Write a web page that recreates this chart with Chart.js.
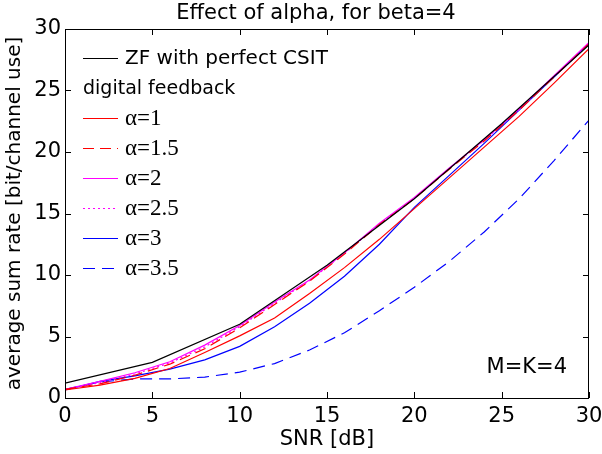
<!DOCTYPE html>
<html>
<head>
<meta charset="utf-8">
<script src="https://cdn.jsdelivr.net/npm/chart.js@4"></script>
<style>
  body { margin: 0; background: #fff; }
  canvas { display: block; }
</style>
</head>
<body>
<canvas id="rateChart" width="602" height="454"></canvas>
<script>
const snrCoarse = [0, 5, 10, 15, 20, 25, 30];
const snrFine = [0, 2, 4, 6, 8, 10, 12, 14, 16, 18, 20, 22, 24, 26, 28, 30];

const zfPerfect = [1.2, 2.9, 6.0, 10.8, 16.2, 22.3, 28.7];
const alpha1  = [0.65, 1.05, 1.6, 2.4, 3.7, 5.05, 6.5, 8.5, 10.6, 12.9, 15.4, 17.9, 20.4, 22.9, 25.6, 28.4];
const alpha15 = [0.7, 1.15, 1.85, 2.75, 4.0, 5.7, 7.6, 9.5, 11.7, 14.1, 16.2, 18.6, 20.9, 23.4, 26.1, 28.8];
const alpha2  = [0.7, 1.35, 2.05, 2.95, 4.3, 5.9, 7.8, 9.6, 11.8, 14.2, 16.3, 18.7, 21.0, 23.5, 26.2, 28.9];
const alpha25 = [0.7, 1.25, 1.95, 2.85, 4.15, 5.8, 7.7, 9.55, 11.75, 14.15, 16.25, 18.65, 20.95, 23.45, 26.15, 28.85];
const alpha3  = [0.65, 1.35, 1.8, 2.35, 3.1, 4.2, 5.8, 7.7, 9.9, 12.5, 15.5, 18.1, 20.7, 23.4, 26.1, 28.8];
const alpha35 = [0.7, 1.3, 1.55, 1.55, 1.7, 2.1, 2.8, 3.9, 5.3, 7.1, 9.0, 11.1, 13.5, 16.2, 19.3, 22.6];

const xTicks = [0, 5, 10, 15, 20, 25, 30];
const yTicks = [0, 5, 10, 15, 20, 25, 30];

const seriesLabels = ["ZF with perfect CSIT", "\u03b1=1", "\u03b1=1.5", "\u03b1=2", "\u03b1=2.5", "\u03b1=3", "\u03b1=3.5"];
const legendHeader = "digital feedback";
const chartTitle = "Effect of alpha, for beta=4";
const noteText = "M=K=4";

const SANS = "'DejaVu Sans', sans-serif";
const SERIF = "'Liberation Serif', 'DejaVu Serif', serif";

function pts(xs, ys) {
  return xs.map((x, i) => ({ x, y: ys[i] }));
}

function line(label, xs, ys, color, dash) {
  return {
    label,
    data: pts(xs, ys),
    borderColor: color,
    backgroundColor: color,
    borderWidth: 1.2,
    borderDash: dash || [],
    pointRadius: 0,
    tension: 0,
    fill: false
  };
}

const datasets = [
  line(seriesLabels[0], snrCoarse, zfPerfect, "#000000"),
  line(seriesLabels[1], snrFine, alpha1, "#ff0000"),
  line(seriesLabels[2], snrFine, alpha15, "#ff0000", [11, 6]),
  line(seriesLabels[3], snrFine, alpha2, "#ff00ff"),
  line(seriesLabels[4], snrFine, alpha25, "#ff00ff", [2, 3]),
  line(seriesLabels[5], snrFine, alpha3, "#0000ff"),
  line(seriesLabels[6], snrFine, alpha35, "#0000ff", [12, 7])
];

// box, inward ticks, title, legend and the note, matlab style
const decorations = {
  id: "decorations",
  afterDraw(chart) {
    const { ctx, chartArea: a, scales } = chart;
    ctx.save();
    ctx.strokeStyle = "#000";
    ctx.lineWidth = 1;
    ctx.setLineDash([]);
    ctx.strokeRect(a.left + 0.5, a.top + 0.5, a.right - a.left - 1, a.bottom - a.top);

    const tl = 6;
    ctx.beginPath();
    xTicks.forEach(v => {
      const px = Math.round(scales.x.getPixelForValue(v)) + 0.5;
      ctx.moveTo(px, a.bottom); ctx.lineTo(px, a.bottom - tl);
      ctx.moveTo(px, a.top); ctx.lineTo(px, a.top + tl);
    });
    yTicks.forEach(v => {
      const py = Math.round(scales.y.getPixelForValue(v)) + 0.5;
      ctx.moveTo(a.left, py); ctx.lineTo(a.left + tl, py);
      ctx.moveTo(a.right, py); ctx.lineTo(a.right - tl, py);
    });
    ctx.stroke();

    ctx.fillStyle = "#000";
    ctx.font = "21px " + SANS;
    ctx.textAlign = "center";
    ctx.textBaseline = "middle";
    ctx.fillText(chartTitle, 316, 14);

    ctx.textAlign = "right";
    ctx.fillText(noteText, a.right - 22, 368);

    // legend
    const x0 = a.left + 18, x1 = a.left + 53, tx = a.left + 60;
    let y = 58;
    ctx.textAlign = "left";
    chart.data.datasets.forEach((ds, i) => {
      ctx.beginPath();
      ctx.strokeStyle = ds.borderColor;
      ctx.lineWidth = ds.borderWidth;
      ctx.setLineDash(ds.borderDash);
      ctx.moveTo(x0, y + 0.5); ctx.lineTo(x1, y + 0.5);
      ctx.stroke();
      ctx.setLineDash([]);
      ctx.fillStyle = "#000";
      ctx.font = i === 0 ? "20px " + SANS : "23px " + SERIF;
      ctx.fillText(ds.label, tx, y + 1);
      y += 30;
      if (i === 0) {
        ctx.font = "19px " + SANS;
        ctx.fillText(legendHeader, x0, y + 1);
        y += 30;
      }
    });
    ctx.restore();
  }
};

new Chart(document.getElementById("rateChart"), {
  type: "line",
  data: { datasets },
  options: {
    responsive: false,
    animation: false,
    devicePixelRatio: 1,
    layout: { padding: { top: 29, right: 13, left: 0, bottom: 0 } },
    plugins: {
      legend: { display: false },
      tooltip: { enabled: false }
    },
    scales: {
      x: {
        type: "linear",
        min: 0, max: 30,
        afterBuildTicks: s => { s.ticks = xTicks.map(v => ({ value: v })); },
        afterFit: s => { s.height = 56; s.paddingLeft = 0; s.paddingRight = 0; },
        grid: { display: false, drawTicks: false },
        border: { display: false },
        ticks: { color: "#000", padding: 6, maxRotation: 0, font: { family: SANS, size: 21 } },
        title: { display: true, text: "SNR [dB]", color: "#000", padding: { top: 0, bottom: 2 }, font: { family: SANS, size: 21 } }
      },
      y: {
        type: "linear",
        min: 0, max: 30,
        afterBuildTicks: s => { s.ticks = yTicks.map(v => ({ value: v })); },
        afterFit: s => { s.width = 65; s.paddingTop = 0; s.paddingBottom = 0; },
        grid: { display: false, drawTicks: false },
        border: { display: false },
        ticks: { color: "#000", padding: 4, font: { family: SANS, size: 21 } },
        title: { display: true, text: "average sum rate [bit/channel use]", color: "#000", padding: { top: 3, bottom: 0 }, font: { family: SANS, size: 20 } }
      }
    }
  },
  plugins: [decorations]
});
</script>
</body>
</html>
